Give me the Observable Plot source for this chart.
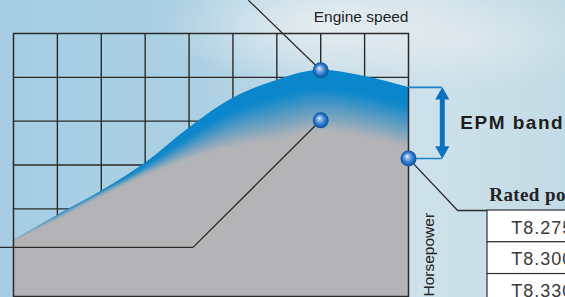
<!DOCTYPE html>
<html><head><meta charset="utf-8">
<script src="https://cdn.jsdelivr.net/npm/d3@7"></script>
<script src="https://cdn.jsdelivr.net/npm/@observablehq/plot@0.6"></script>
<style>
html,body{margin:0;padding:0;}
#chart{width:565px;height:297px;overflow:hidden;position:relative;
 background:
  radial-gradient(ellipse 170px 60px at 330px 25px, rgba(236,241,242,0.85), rgba(236,241,242,0) 100%),
  radial-gradient(ellipse 120px 50px at 470px 40px, rgba(222,233,238,0.8), rgba(222,233,238,0) 100%),
  linear-gradient(90deg,#a6cde3 0%, #abd0e3 35%, #c4dce8 58%, #cde1ea 75%, #c3dbe5 100%);}
</style></head><body><div id="chart"></div>
<script>
// Engine speed grid steps (9 columns) and horsepower (6 rows)
const speedSteps = [0,1,2,3,4,5,6,7,8,9];
const epmPower   = [1.28,1.85,2.40,3.04,3.84,4.52,4.93,5.16,5.02,4.77];
const ratedPower = [1.28,1.78,2.31,2.83,3.33,3.74,3.97,4.02,3.80,3.15];
const models = ["T8.275","T8.300","T8.330"];
const labelSpeed = "Engine speed";
const labelPower = "Horsepower";
const labelBand = "EPM band";
const labelTable = "Rated power";

const rows = speedSteps.map((s,i)=>({speed:s, epm:epmPower[i], rated:ratedPower[i]}));
const last = rows[rows.length-1];
const peak = rows[7];

const sans = "Liberation Sans, Arial, Helvetica, sans-serif";
const ink = "#2a2a2a";
const blue = "#0a87cc";
const arrowBlue = "#0b72c0";
const gray = "#b4b4b6";
const curve = "monotone-x";

// soft blue-to-grey shading below the EPM curve (style layers derived from the band)
const N = 14;
const fadeStart = d => Math.min(0.45*(d.epm-d.rated), 0.46);
const fadeEnd = d => Math.min(1.4*(d.epm-d.rated), 1.37);
const grayLayers = d3.range(1, N+1).map(j =>
  Plot.areaY(rows, {x:"speed", y1:-0.3,
    y2: d => d.epm - (fadeStart(d) + (fadeEnd(d)-fadeStart(d))*(j-1)/(N-1)),
    fill:gray, fillOpacity:1/(N-j+1), curve, ariaDescription:"gray-layer"}));

// annotation anchor geometry (data units)
const arrowX = 9.77;
const headLen = 0.2;
const callout1 = [{x:peak.speed,y:peak.epm},{x:5.36,y:6.75}];
const callout2 = [{x:peak.speed,y:peak.rated},{x:4.09,y:1.12},{x:-0.4,y:1.12}];
const tableTop = 1.962, rowH = 0.725, tableLeft = 10.8;
const callout3 = [{x:last.speed,y:last.rated},{x:10.12,y:tableTop},{x:tableLeft,y:tableTop}];
const tableRows = models.map((m,i)=>({model:m, top:tableTop - i*rowH, bottom:tableTop-(i+1)*rowH}));

const plot = Plot.plot({
  width:565, height:297,
  marginLeft:13, marginRight:157, marginTop:33, marginBottom:1,
  x:{domain:[0,9], axis:null},
  y:{domain:[0,6], axis:null},
  style:{background:"transparent", overflow:"visible"},
  marks:[
    Plot.gridX(d3.range(1,9), {stroke:ink, strokeOpacity:1, strokeWidth:1.4}),
    Plot.gridY(d3.range(1,6), {stroke:ink, strokeOpacity:1, strokeWidth:1.4}),
    Plot.areaY(rows, {x:"speed", y1:0, y2:"epm", fill:blue, curve, ariaDescription:"epm-area"}),
    ...grayLayers,
    Plot.frame({stroke:ink, strokeWidth:1.5}),
    Plot.line(callout1, {x:"x", y:"y", stroke:ink, strokeWidth:1.3}),
    Plot.line(callout2, {x:"x", y:"y", stroke:ink, strokeWidth:1.3}),
    Plot.line(callout3, {x:"x", y:"y", stroke:ink, strokeWidth:1.3}),
    // EPM band bracket
    Plot.ruleY([last.epm, last.rated], {x1:last.speed, x2:arrowX, stroke:"#1a80c8", strokeWidth:1.6}),
    Plot.ruleX([arrowX], {y1:last.rated+headLen, y2:last.epm-headLen, stroke:arrowBlue, strokeWidth:5}),
    Plot.dot([last.epm], {x:arrowX, y:d=>d, symbol:"triangle", r:5.3, fill:arrowBlue, stroke:"none", dy:8}),
    Plot.dot([last.rated], {x:arrowX, y:d=>d, symbol:"triangle", r:5.3, fill:arrowBlue, stroke:"none", dy:-8, rotate:180}),
    // spheres
    Plot.dot([{x:peak.speed,y:peak.epm},{x:peak.speed,y:peak.rated},{x:last.speed,y:last.rated}],
      {x:"x", y:"y", r:8, fill:"url(#sphere)", stroke:"none"}),
    // table
    Plot.rect(tableRows, {x1:tableLeft, x2:13.5, y1:"bottom", y2:"top", fill:"white", stroke:"#333", strokeWidth:1.2}),
    Plot.text(tableRows, {x:11.34, y:d=>d.top-0.525, text:"model", textAnchor:"start", lineAnchor:"bottom",
      fontFamily:sans, fontSize:18, fill:"#3a3a3a", ariaDescription:"table-text"}),
    Plot.text([labelTable], {x:10.84, y:2.19, text:d=>d, textAnchor:"start", lineAnchor:"bottom",
      fontFamily:"Liberation Serif, Times New Roman, serif", fontWeight:"bold", fontSize:19, fill:"#222",
      ariaDescription:"table-title"}),
    // labels
    Plot.text([labelSpeed], {x:9, y:6.26, text:d=>d, textAnchor:"end", lineAnchor:"bottom",
      fontFamily:sans, fontSize:15.5, fill:"#222"}),
    Plot.text([labelPower], {x:9.59, y:0, text:d=>d, textAnchor:"start", lineAnchor:"bottom", rotate:-90,
      fontFamily:sans, fontSize:15.5, fill:"#222"}),
    Plot.text([labelBand], {x:10.18, y:3.81, text:d=>d, textAnchor:"start", lineAnchor:"bottom",
      fontFamily:sans, fontWeight:"bold", fontSize:19, fill:"#1e1e1e", ariaDescription:"band-label"})
  ]
});

const svg = d3.select(plot);
const defs = svg.insert("defs", ":first-child");
const rg = defs.append("radialGradient").attr("id","sphere").attr("cx","50%").attr("cy","50%").attr("r","50%")
  .attr("fx","40%").attr("fy","36%");
rg.append("stop").attr("offset","0%").attr("stop-color","#f4f8ff");
rg.append("stop").attr("offset","22%").attr("stop-color","#9cc0ea");
rg.append("stop").attr("offset","65%").attr("stop-color","#2a78cc");
rg.append("stop").attr("offset","100%").attr("stop-color","#0b4f9c");
const f = defs.append("filter").attr("id","vblur").attr("x","-5%").attr("y","-20%").attr("width","110%").attr("height","140%");
f.append("feGaussianBlur").attr("stdDeviation","0 2");
const epmPath = svg.select('[aria-description="epm-area"] path');
defs.append("clipPath").attr("id","epmClip").append("path").attr("d", epmPath.attr("d"));
const layers = svg.selectAll('[aria-description="gray-layer"]');
layers.attr("clip-path","url(#epmClip)");
layers.selectAll("path").attr("filter","url(#vblur)");
svg.selectAll('[aria-description="band-label"] text').style("letter-spacing","1.5px");
svg.selectAll('[aria-description="table-text"] text').style("letter-spacing","1px");
svg.selectAll('[aria-description="table-title"] text').style("letter-spacing","0.4px");

document.getElementById("chart").appendChild(plot);
</script>
</body></html>
